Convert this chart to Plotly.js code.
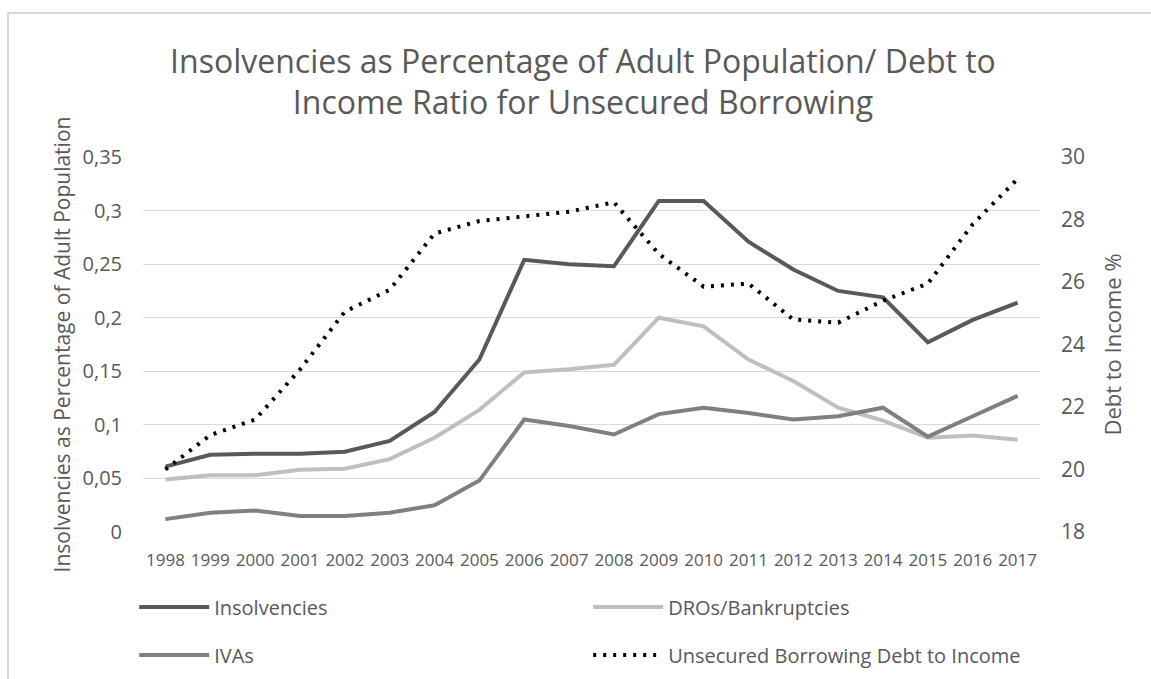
<!DOCTYPE html>
<html>
<head>
<meta charset="utf-8">
<script src="https://cdn.plot.ly/plotly-3.0.1.min.js"></script>
<style>
  html, body { margin: 0; padding: 0; background: #ffffff; overflow: hidden; }
  #chart { width: 1151px; height: 679px; }
  #frame { position: absolute; left: 7px; top: 12px; width: 1300px; height: 800px;
           border-left: 2px solid #d9d9d9; border-top: 2px solid #d9d9d9; pointer-events: none; }
</style>
</head>
<body>
<div id="chart"></div>
<div id="frame"></div>
<script>
const years = ["1998","1999","2000","2001","2002","2003","2004","2005","2006","2007",
               "2008","2009","2010","2011","2012","2013","2014","2015","2016","2017"];

const insolvencies = [0.061,0.072,0.073,0.073,0.075,0.085,0.112,0.161,0.254,0.250,
                      0.248,0.309,0.309,0.271,0.245,0.225,0.219,0.177,0.198,0.214];

const drosBankruptcies = [0.049,0.053,0.053,0.058,0.059,0.068,0.088,0.114,0.149,0.152,
                          0.156,0.200,0.192,0.161,0.141,0.116,0.104,0.088,0.090,0.086];

const ivas = [0.012,0.018,0.020,0.015,0.015,0.018,0.025,0.048,0.105,0.099,
              0.091,0.110,0.116,0.111,0.105,0.108,0.116,0.089,0.108,0.127];

const debtToIncome = [20.0,21.1,21.6,23.2,25.05,25.75,27.55,27.95,28.1,28.25,
                      28.55,26.9,25.85,25.95,24.8,24.7,25.4,25.95,27.85,29.3];

const leftTickVals = [0,0.05,0.1,0.15,0.2,0.25,0.3,0.35];
const leftTickText = ["0","0,05","0,1","0,15","0,2","0,25","0,3","0,35"];
const rightTickVals = [18,20,22,24,26,28,30];
const rightTickText = ["18","20","22","24","26","28","30"];

const FONT = "Open Sans, Noto Sans, sans-serif";
const GREY = "#595959";

const traces = [
  { x: years, y: insolvencies, name: "Insolvencies", type: "scatter", mode: "lines",
    line: { color: "#595959", width: 4 }, legend: "legend" },
  { x: years, y: drosBankruptcies, name: "DROs/Bankruptcies", type: "scatter", mode: "lines",
    line: { color: "#bfbfbf", width: 4 }, legend: "legend2" },
  { x: years, y: ivas, name: "IVAs", type: "scatter", mode: "lines",
    line: { color: "#808080", width: 4 }, legend: "legend3" },
  { x: years, y: debtToIncome, name: "Unsecured Borrowing Debt to Income", type: "scatter", mode: "lines",
    yaxis: "y2", line: { color: "#000000", width: 4, dash: "3px,7px" }, legend: "legend4" }
];

const legendBase = {
  orientation: "h", xanchor: "left", yanchor: "middle",
  itemwidth: 70,
  font: { family: FONT, size: 20, color: GREY }, bgcolor: "rgba(0,0,0,0)", borderwidth: 0
};
const COL1 = -0.0098, COL2 = 0.4963, ROW1 = -0.2, ROW2 = -0.328;

const layout = {
  width: 1151, height: 679,
  margin: { l: 143, r: 111, t: 157, b: 147, pad: 0, autoexpand: false },
  paper_bgcolor: "rgba(0,0,0,0)", plot_bgcolor: "rgba(0,0,0,0)",
  separators: ", ",
  title: {
    text: "Insolvencies as Percentage of Adult Population/ Debt to<br>Income Ratio for Unsecured Borrowing",
    font: { family: FONT, size: 32, color: GREY },
    x: 0.5065, xanchor: "center", xref: "container",
    y: 0.893, yanchor: "top", yref: "container"
  },
  xaxis: {
    type: "category", range: [-0.5, 19.5], showgrid: false, zeroline: false, showline: false, ticks: "",
    tickfont: { family: FONT, size: 17, color: GREY }, ticklabelstandoff: 16
  },
  yaxis: {
    range: [0, 0.35], tickvals: leftTickVals, ticktext: leftTickText,
    showgrid: true, gridcolor: "#d9d9d9", gridwidth: 1, zeroline: false, showline: false, ticks: "",
    tickfont: { family: FONT, size: 20, color: GREY }, ticklabelstandoff: 20,
    title: { text: "Insolvencies as Percentage of Adult Population",
             font: { family: FONT, size: 21, color: GREY }, standoff: 6 }
  },
  yaxis2: {
    range: [18, 30], tickvals: rightTickVals, ticktext: rightTickText,
    overlaying: "y", side: "right", showgrid: false, zeroline: false, showline: false, ticks: "",
    tickfont: { family: FONT, size: 21, color: GREY }, ticklabelstandoff: 20,
    title: { text: "Debt to Income %", font: { family: FONT, size: 22, color: GREY }, standoff: 21 }
  },
  legend: Object.assign({}, legendBase, { x: COL1, y: ROW1 }),
  legend2: Object.assign({}, legendBase, { x: COL2, y: ROW1 }),
  legend3: Object.assign({}, legendBase, { x: COL1, y: ROW2 }),
  legend4: Object.assign({}, legendBase, { x: COL2, y: ROW2 }),
  showlegend: true
};

Plotly.newPlot("chart", traces, layout, { displayModeBar: false, staticPlot: true });
</script>
</body>
</html>
